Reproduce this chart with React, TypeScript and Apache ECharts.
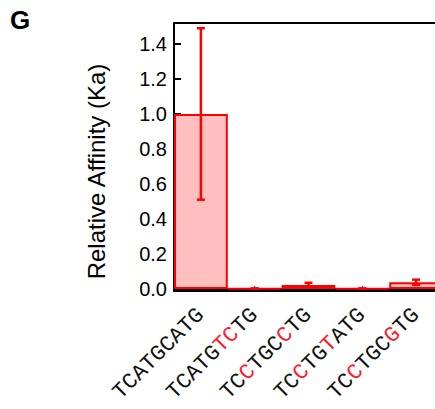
import React, { useEffect, useRef } from "react";
import * as echarts from "echarts";

const categories = ["TCATGCATG", "TCATGTCTG", "TCCTGCCTG", "TCCTGTATG", "TCCTGCGTG"];
// positions (0-based) of letters drawn in red in each category label
const redLetters: number[][] = [[], [5, 6], [2, 6], [2, 5], [2, 6]];
const affinity = [1.0, 0.002, 0.023, 0.002, 0.038];
const errors = [0.49, 0, 0.012, 0, 0.015];
const yTickValues = [0, 0.2, 0.4, 0.6, 0.8, 1.0, 1.2, 1.4];
const panelLabel = "G";
const yAxisName = "Relative Affinity (Ka)";

function labelRich(idx: number): string {
  const s = categories[idx] || "";
  const reds = redLetters[idx] || [];
  let out = "";
  for (let i = 0; i < s.length; i++) {
    out += reds.includes(i) ? `{r|${s[i]}}` : `{k|${s[i]}}`;
  }
  return out;
}

export default function App() {
  const ref = useRef<HTMLDivElement>(null);
  useEffect(() => {
    if (!ref.current) return;
    const chart = echarts.init(ref.current, null, { renderer: "svg" });
    const monoFont = "Liberation Mono";
    const sansFont = "Liberation Sans";
    chart.setOption({
      animation: false,
      backgroundColor: "#fff",
      title: {
        text: panelLabel,
        left: 10,
        top: 7,
        padding: 0,
        textStyle: { fontSize: 26, fontWeight: "bold", fontFamily: sansFont, color: "#000" },
      },
      grid: {
        left: 174,
        top: 23,
        width: 269,
        height: 268,
        outerBoundsMode: "none",
        containLabel: false,
        show: true,
        borderColor: "#000",
        borderWidth: 2,
        backgroundColor: "transparent",
      },
      xAxis: {
        type: "category",
        data: categories,
        boundaryGap: true,
        axisLine: { show: true, lineStyle: { color: "#000", width: 2 } },
        axisTick: { show: true, inside: true, alignWithLabel: true, length: 3, lineStyle: { color: "#555" } },
        axisLabel: {
          rotate: 45,
          margin: 21,
          interval: 0,
          fontFamily: monoFont,
          fontSize: 22,
          formatter: (_v: string, idx: number) => labelRich(idx),
          rich: {
            k: { color: "#111", fontFamily: monoFont, fontSize: 22 },
            r: { color: "#ff1a2e", fontFamily: monoFont, fontSize: 22 },
          },
        },
      },
      yAxis: {
        type: "value",
        min: -0.012,
        max: 1.52,
        name: yAxisName,
        nameLocation: "middle",
        nameGap: 66,
        nameTextStyle: { fontSize: 24, fontFamily: sansFont, color: "#000", padding: [0, 29, 0, 0] },
        axisLine: { show: true, lineStyle: { color: "#000", width: 2 } },
        axisTick: { show: true, inside: true, length: 7, lineStyle: { color: "#000", width: 2 }, customValues: yTickValues },
        axisLabel: {
          margin: 7,
          fontSize: 20,
          fontFamily: sansFont,
          color: "#000",
          customValues: yTickValues,
          formatter: (v: number) => v.toFixed(1),
        },
        splitLine: { show: false },
      },
      series: [
        {
          type: "bar",
          data: affinity,
          barCategoryGap: "0%",
          itemStyle: { color: "#ffbfbf", borderColor: "#ff0000", borderWidth: 2 },
          z: 2,
        },
        {
          type: "custom",
          data: affinity.map((v, i) => [i, v - errors[i], v + errors[i]]),
          z: 3,
          renderItem: (_params: any, api: any) => {
            const i = api.value(0);
            const lo = api.coord([i, api.value(1)]);
            const hi = api.coord([i, api.value(2)]);
            const half = 4;
            const style = { stroke: "#ff0000", lineWidth: 2.5, fill: "none" };
            return {
              type: "group",
              children: [
                { type: "line", shape: { x1: lo[0], y1: lo[1], x2: hi[0], y2: hi[1] }, style },
                { type: "line", shape: { x1: lo[0] - half, y1: lo[1], x2: lo[0] + half, y2: lo[1] }, style },
                { type: "line", shape: { x1: hi[0] - half, y1: hi[1], x2: hi[0] + half, y2: hi[1] }, style },
              ],
            };
          },
        },
      ],
    });
    return () => chart.dispose();
  }, []);
  return (
    <div style={{ position: "absolute", left: 0, top: 0, width: 435, height: 409, overflow: "hidden" }}>
      <div ref={ref} style={{ position: "absolute", left: 0, top: 0, width: 480, height: 409 }} />
    </div>
  );
}
